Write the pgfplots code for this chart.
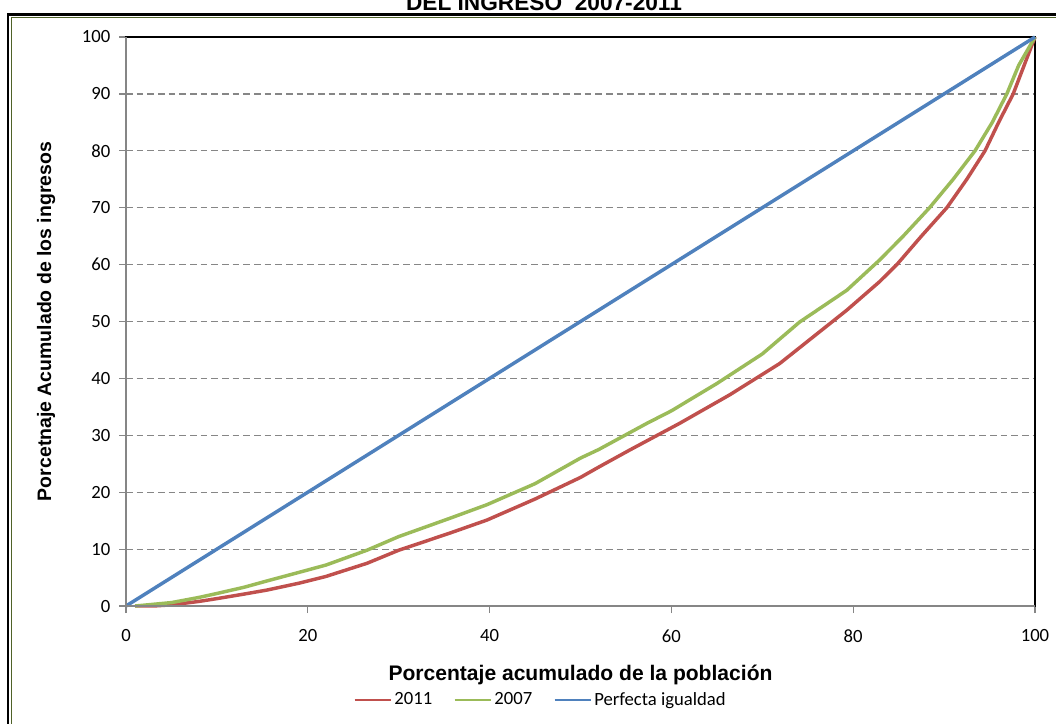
\documentclass[border=0pt]{standalone}
\usepackage{pgfplots}
\pgfplotsset{compat=1.18}
\usepackage{fontspec}
\setmainfont{Carlito}
\newfontfamily\arialfont{Liberation Sans}

\definecolor{rojo}{HTML}{C0504D}
\definecolor{verde}{HTML}{9BBB59}
\definecolor{azul}{HTML}{4F81BD}
\definecolor{marco}{HTML}{4F6228}
\definecolor{ejegris}{HTML}{868686}

\begin{document}
\begin{tikzpicture}
\useasboundingbox (0,0) rectangle (792pt,-543pt);
% marco doble alrededor del grafico
\draw[black, line width=1.9pt] (6pt,-10.9pt) rectangle (840pt,-580pt);
\draw[marco, line width=1pt] (8.8pt,-13pt) rectangle (836pt,-576pt);
\node[anchor=base, inner sep=0pt, font=\arialfont\bfseries\fontsize{17}{20}\selectfont] at (408pt,-8.2pt) {DEL INGRESO\ \ 2007-2011};

\begin{axis}[
    at={(94.5pt,-454.5pt)}, anchor=south west,
    scale only axis,
    width=681.75pt, height=426.75pt,
    xmin=0, xmax=100, ymin=0, ymax=100,
    xtick={0,20,...,100},
    ytick={0,10,...,100},
    xtick pos=bottom, ytick pos=left,
    tick align=outside,
    major tick length=5.25pt,
    tick style={ejegris, line width=0.9pt},
    axis line style={black, line width=0.9pt},
    ymajorgrids=true,
    major grid style={ejegris, line width=0.9pt, dash pattern=on 5pt off 3pt},
    /pgf/number format/assume math mode=true,
    ticklabel style={font=\fontsize{14}{16}\selectfont},
    xticklabel style={yshift=-9pt},
    yticklabel style={xshift=-3pt},
    xlabel={\arialfont\bfseries Porcentaje acumulado de la población},
    ylabel={\arialfont\bfseries Porcetnaje Acumulado de los ingresos},
    xlabel style={font=\fontsize{15.8}{18}\selectfont, at={(axis description cs:0.5,-0.121)}, anchor=center},
    ylabel style={font=\fontsize{14.6}{17}\selectfont, at={(axis description cs:-0.088,0.5)}, anchor=center, rotate=0},
    legend style={at={(axis description cs:0.4565,-0.165)}, anchor=center, draw=none,
        font=\fontsize{14}{16}\selectfont, legend columns=3,
        /tikz/every even column/.append style={column sep=14pt}},
    legend image code/.code={\draw[#1, line width=1.6pt] (0pt,0pt) -- (27pt,0pt);},
    clip=false,
]
\addplot[rojo, line width=2.6pt, line join=round] coordinates {
    (1,0) (3,0) (5,0.2) (8,0.8) (10,1.3) (13,2.1) (15.5,2.8) (19,4.0)
    (22,5.2) (26.5,7.5) (30,9.8) (35.6,12.8) (39.7,15.1) (45,18.8)
    (50,22.6) (52.1,24.5) (55.4,27.4) (60.9,32.1) (66.4,37.1) (71.9,42.6)
    (75.6,47.3) (79.3,52.0) (82.9,57.0) (84.8,60) (87.5,65) (90.3,70)
    (92.5,75) (94.5,80) (96,85) (97.6,90) (98.8,95) (100,100)
};
\addplot[verde, line width=2.6pt, line join=round] coordinates {
    (1,0) (3,0.3) (5,0.6) (8,1.5) (10,2.2) (13,3.3) (15.5,4.4) (19,5.9)
    (22,7.2) (26.5,9.8) (30,12.2) (35.6,15.4) (39.7,17.8) (45,21.5)
    (50,26.0) (52,27.5) (57.3,32.1) (60,34.3) (65,39.1) (70,44.3)
    (74.1,49.9) (79.3,55.5) (82.9,60.8) (85.5,65) (88.4,70) (91,75)
    (93.4,80) (95.3,85) (96.9,90) (98.2,95) (100,100)
};
\addplot[azul, line width=2.6pt, line join=round] coordinates {
    (0,0) (10,10) (20,20) (30,30) (40,40) (50,50)
    (60,60) (70,70) (80,80) (90,90) (100,100)
};
\legend{2011,2007,Perfecta igualdad}
% ejes izquierdo e inferior en gris
\draw[ejegris, line width=1.5pt] (axis cs:0,100) -- (axis cs:0,0) -- (axis cs:100,0);
\end{axis}
\end{tikzpicture}
\end{document}
